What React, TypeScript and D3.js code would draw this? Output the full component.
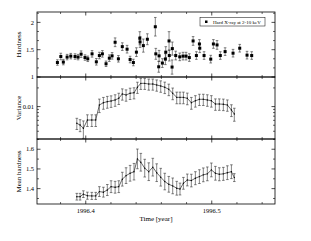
import * as d3 from "d3";

// Hard X-ray hardness (individual observations)
const hardT = [
  1996.3775, 1996.3802, 1996.3822, 1996.3852, 1996.3881, 1996.3915, 1996.3939, 1996.3963,
  1996.3994, 1996.4016, 1996.405, 1996.4084, 1996.4108, 1996.4132, 1996.4161, 1996.4187,
  1996.4209, 1996.4233, 1996.4259, 1996.429, 1996.4328, 1996.4352, 1996.4378, 1996.4402,
  1996.4429, 1996.4431, 1996.4457, 1996.4489, 1996.4552, 1996.4556, 1996.4582, 1996.4579,
  1996.4608, 1996.4632, 1996.4635, 1996.4661, 1996.4663, 1996.4687, 1996.4685, 1996.4714,
  1996.4746, 1996.4772, 1996.4796, 1996.4822, 1996.4852, 1996.4878, 1996.4902, 1996.4905,
  1996.4939, 1996.4992, 1996.5013, 1996.5042, 1996.5068, 1996.5106, 1996.5169, 1996.5222,
  1996.528, 1996.5317,
];
const hardV = [
  1.265, 1.375, 1.273, 1.364, 1.382, 1.375, 1.364, 1.418, 1.356, 1.333, 1.424, 1.278, 1.393,
  1.424, 1.242, 1.345, 1.387, 1.636, 1.333, 1.556, 1.509, 1.32, 1.265, 1.455, 1.709, 1.642,
  1.575, 1.691, 1.92, 1.424, 1.387, 1.187, 1.255, 1.327, 1.455, 1.66, 1.393, 1.52, 1.182,
  1.393, 1.369, 1.382, 1.382, 1.356, 1.66, 1.393, 1.605, 1.527, 1.393, 1.327, 1.605, 1.587,
  1.393, 1.465, 1.436, 1.527, 1.4, 1.393,
];
const hardE = [
  0.05, 0.06, 0.05, 0.05, 0.05, 0.05, 0.05, 0.06, 0.05, 0.05, 0.06, 0.06, 0.06, 0.06, 0.05,
  0.06, 0.06, 0.08, 0.06, 0.07, 0.07, 0.06, 0.06, 0.08, 0.12, 0.1, 0.12, 0.1, 0.17, 0.1, 0.1,
  0.1, 0.08, 0.1, 0.1, 0.17, 0.1, 0.12, 0.13, 0.08, 0.07, 0.07, 0.07, 0.07, 0.08, 0.07, 0.08,
  0.08, 0.07, 0.07, 0.08, 0.08, 0.07, 0.07, 0.07, 0.07, 0.07, 0.07,
];

// sliding window results
const winT = [
  1996.3929, 1996.3955, 1996.3981, 1996.4013, 1996.4048, 1996.4079, 1996.4108, 1996.414,
  1996.4171, 1996.4201, 1996.4233, 1996.4262, 1996.429, 1996.432, 1996.4352, 1996.4383,
  1996.441, 1996.4437, 1996.4468, 1996.45, 1996.4532, 1996.4563, 1996.4595, 1996.4627,
  1996.4659, 1996.469, 1996.4722, 1996.4748, 1996.4775, 1996.4806, 1996.4838, 1996.487,
  1996.4902, 1996.4933, 1996.4965, 1996.4997, 1996.5029, 1996.506, 1996.5092, 1996.5124,
  1996.5156, 1996.5179,
];
const varV = [
  0.00537, 0.00504, 0.00447, 0.00607, 0.00607, 0.00607, 0.0106, 0.01155, 0.012, 0.0123,
  0.0128, 0.0136, 0.016, 0.0154, 0.0164, 0.0167, 0.0205, 0.0237, 0.0237, 0.0231, 0.0231,
  0.0223, 0.0215, 0.0205, 0.019, 0.0164, 0.0141, 0.0141, 0.0141, 0.0136, 0.01155, 0.0124,
  0.0131, 0.0131, 0.0128, 0.0124, 0.011, 0.011, 0.0109, 0.0106, 0.0088, 0.0076,
];
const varE = [
  0.0011, 0.0011, 0.0014, 0.0013, 0.0013, 0.0013, 0.0026, 0.0025, 0.0026, 0.0026, 0.0027,
  0.0028, 0.0033, 0.0032, 0.0034, 0.0034, 0.0042, 0.0048, 0.0048, 0.0047, 0.0047, 0.0046,
  0.0045, 0.0043, 0.004, 0.0035, 0.003, 0.003, 0.003, 0.0029, 0.0025, 0.0026, 0.0027, 0.0027,
  0.0027, 0.0026, 0.0023, 0.0023, 0.0023, 0.0022, 0.0019, 0.0018,
];
const meanV = [
  1.359, 1.359, 1.372, 1.364, 1.363, 1.363, 1.385, 1.382, 1.393, 1.41, 1.407, 1.41, 1.448,
  1.466, 1.478, 1.486, 1.551, 1.534, 1.504, 1.486, 1.509, 1.481, 1.458, 1.436, 1.422, 1.414,
  1.402, 1.398, 1.427, 1.444, 1.441, 1.453, 1.461, 1.47, 1.475, 1.495, 1.478, 1.473, 1.475,
  1.481, 1.486, 1.456,
];
const meanE = [
  0.017, 0.017, 0.017, 0.018, 0.018, 0.018, 0.025, 0.025, 0.028, 0.03, 0.03, 0.03, 0.035,
  0.04, 0.04, 0.042, 0.05, 0.045, 0.045, 0.045, 0.045, 0.045, 0.045, 0.042, 0.04, 0.04,
  0.035, 0.03, 0.03, 0.03, 0.032, 0.033, 0.035, 0.035, 0.035, 0.035, 0.035, 0.033, 0.033,
  0.035, 0.035, 0.02,
];

const xMajor = [1996.4, 1996.5];
const hardTicks = [1, 1.5, 2];
const varTicks = [0.01];
const meanTicks = [1.4, 1.5, 1.6];
const legendLabel = "Hard X-ray at 2-10 keV";

const W = 311;
const H = 241;
const LEFT = 37;
const RIGHT = 275;
const PANELS = [12, 77, 139, 204];
const FONT = "'Liberation Serif', 'DejaVu Serif', serif";
const MAJOR = 3.5;
const MINOR = 2;

const x = d3.scaleLinear().domain([1996.3613, 1996.5502]).range([LEFT, RIGHT]);
const xMinor = x.ticks(10).filter((t) => !xMajor.some((m) => Math.abs(m - t) < 1e-6));

type Scale = (v: number) => number;

function Frame({
  top,
  bottom,
  y,
  major,
  minor,
  fmt,
  title,
}: {
  top: number;
  bottom: number;
  y: Scale;
  major: number[];
  minor: number[];
  fmt: (v: number) => string;
  title: string;
}) {
  const mid = (top + bottom) / 2;
  return (
    <g>
      <rect x={LEFT} y={top} width={RIGHT - LEFT} height={bottom - top} fill="none" stroke="#000" strokeWidth={0.8} />
      {/* x ticks top and bottom, inward */}
      {xMajor.map((t) => (
        <g key={"xM" + t}>
          <line x1={x(t)} x2={x(t)} y1={bottom} y2={bottom - MAJOR} stroke="#000" strokeWidth={0.7} />
          <line x1={x(t)} x2={x(t)} y1={top} y2={top + MAJOR} stroke="#000" strokeWidth={0.7} />
        </g>
      ))}
      {xMinor.map((t) => (
        <g key={"xm" + t}>
          <line x1={x(t)} x2={x(t)} y1={bottom} y2={bottom - MINOR} stroke="#000" strokeWidth={0.6} />
          <line x1={x(t)} x2={x(t)} y1={top} y2={top + MINOR} stroke="#000" strokeWidth={0.6} />
        </g>
      ))}
      {major.map((v) => (
        <g key={"yM" + v}>
          <line x1={LEFT} x2={LEFT + MAJOR} y1={y(v)} y2={y(v)} stroke="#000" strokeWidth={0.7} />
          <line x1={RIGHT} x2={RIGHT - MAJOR} y1={y(v)} y2={y(v)} stroke="#000" strokeWidth={0.7} />
          <text x={LEFT - 3} y={y(v)} dy="0.33em" textAnchor="end" fontSize={6.5} fontFamily={FONT}>
            {fmt(v)}
          </text>
        </g>
      ))}
      {minor.map((v) => (
        <g key={"ym" + v}>
          <line x1={LEFT} x2={LEFT + MINOR} y1={y(v)} y2={y(v)} stroke="#000" strokeWidth={0.6} />
          <line x1={RIGHT} x2={RIGHT - MINOR} y1={y(v)} y2={y(v)} stroke="#000" strokeWidth={0.6} />
        </g>
      ))}
      <text
        transform={`translate(21,${mid}) rotate(-90)`}
        textAnchor="middle"
        fontSize={7}
        fontFamily={FONT}
      >
        {title}
      </text>
    </g>
  );
}

function ErrBars({ t, v, e, y, lo }: { t: number[]; v: number[]; e: number[]; y: Scale; lo: number }) {
  return (
    <g stroke="#333" strokeWidth={0.6}>
      {t.map((tt, i) => {
        const cx = x(tt);
        const y1 = y(v[i] + e[i]);
        const y0 = y(Math.max(v[i] - e[i], lo));
        return (
          <g key={i}>
            <line x1={cx} x2={cx} y1={y0} y2={y1} />
            <line x1={cx - 1.3} x2={cx + 1.3} y1={y1} y2={y1} />
            <line x1={cx - 1.3} x2={cx + 1.3} y1={y0} y2={y0} />
          </g>
        );
      })}
    </g>
  );
}

export default function App() {
  const yHard = d3.scaleLinear().domain([1, 2.19]).range([PANELS[1], PANELS[0]]);
  const yVar = d3.scaleLog().domain([0.003, 0.03]).range([PANELS[2], PANELS[1]]);
  const yMean = d3.scaleLinear().domain([1.322, 1.652]).range([PANELS[3], PANELS[2]]);

  const hardMinor = d3.range(1, 2.19, 1 / 6).filter((v) => !hardTicks.some((m) => Math.abs(m - v) < 1e-6));
  const varMinor = yVar.ticks().filter((v) => v > 0.0031 && v < 0.029 && !varTicks.includes(v));
  const meanMinor = d3.range(1.35, 1.66, 0.1);

  const varLine = d3
    .line<number>()
    .x((_, i) => x(winT[i]))
    .y((d) => yVar(d));
  const meanLine = d3
    .line<number>()
    .x((_, i) => x(winT[i]))
    .y((d) => yMean(d));

  return (
    <svg width={W} height={H} style={{ position: "absolute", left: 0, top: 0, background: "#fff" }}>
      <defs>
        <clipPath id="c2">
          <rect x={LEFT} y={PANELS[1]} width={RIGHT - LEFT} height={PANELS[2] - PANELS[1]} />
        </clipPath>
      </defs>

      {/* Panel 1: hardness */}
      <ErrBars t={hardT} v={hardV} e={hardE} y={yHard} lo={1} />
      {hardT.map((t, i) => (
        <rect key={i} x={x(t) - 1.5} y={yHard(hardV[i]) - 1.5} width={3} height={3} fill="#000" />
      ))}
      <Frame
        top={PANELS[0]}
        bottom={PANELS[1]}
        y={yHard}
        major={hardTicks}
        minor={hardMinor}
        fmt={(v) => String(v)}
        title="Hardness"
      />
      <rect x={200} y={17.5} width={65} height={8.5} fill="#fff" stroke="#000" strokeWidth={0.5} />
      <rect x={205} y={20.5} width={2.5} height={2.5} fill="#000" />
      <text x={213} y={23.6} fontSize={5} fontFamily={FONT}>
        {legendLabel}
      </text>

      {/* Panel 2: variance */}
      <g clipPath="url(#c2)">
        <path d={varLine(varV) ?? ""} fill="none" stroke="#000" strokeWidth={0.6} />
        <ErrBars t={winT} v={varV} e={varE} y={yVar} lo={0.0029} />
        {winT.map((t, i) => (
          <circle key={i} cx={x(t)} cy={yVar(varV[i])} r={0.7} fill="#000" />
        ))}
      </g>
      <Frame
        top={PANELS[1]}
        bottom={PANELS[2]}
        y={yVar}
        major={varTicks}
        minor={varMinor}
        fmt={(v) => String(v)}
        title="Variance"
      />

      {/* Panel 3: mean hardness */}
      <path d={meanLine(meanV) ?? ""} fill="none" stroke="#000" strokeWidth={0.6} />
      <ErrBars t={winT} v={meanV} e={meanE} y={yMean} lo={1.322} />
      {winT.map((t, i) => (
        <circle key={i} cx={x(t)} cy={yMean(meanV[i])} r={0.7} fill="#000" />
      ))}
      <Frame
        top={PANELS[2]}
        bottom={PANELS[3]}
        y={yMean}
        major={meanTicks}
        minor={meanMinor}
        fmt={(v) => v.toFixed(1)}
        title="Mean hardness"
      />

      {xMajor.map((t) => (
        <text key={t} x={x(t)} y={213} textAnchor="middle" fontSize={6.5} fontFamily={FONT}>
          {t.toFixed(1)}
        </text>
      ))}
      <text x={(LEFT + RIGHT) / 2} y={221} textAnchor="middle" fontSize={7} fontFamily={FONT}>
        Time [year]
      </text>
    </svg>
  );
}
